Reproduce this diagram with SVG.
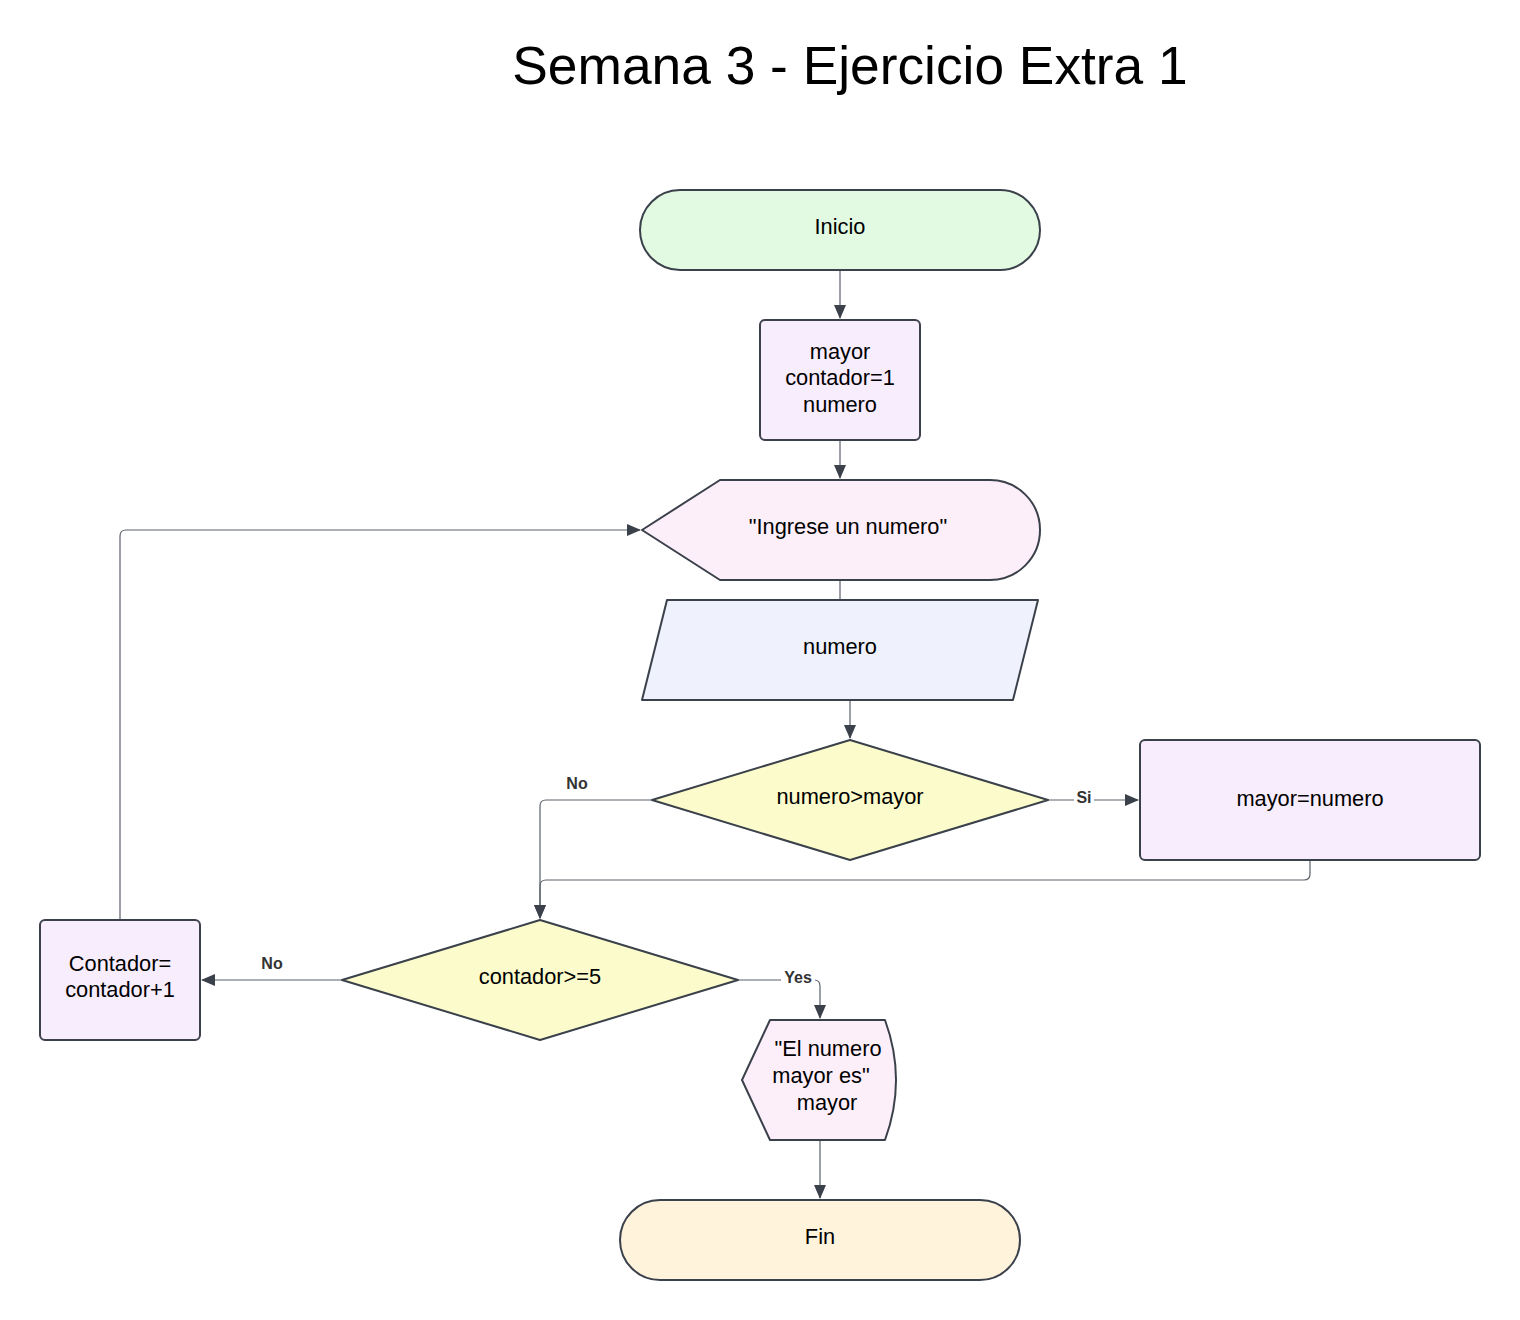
<svg xmlns="http://www.w3.org/2000/svg" width="1520" height="1320" viewBox="0 0 1520 1320">
<style>
.n{stroke:#3a414a;stroke-width:2;stroke-linejoin:round}
.t{font-family:"Liberation Sans",Arial,sans-serif;font-size:21.8px;fill:#000;text-anchor:middle}
.l{font-family:"Liberation Sans",Arial,sans-serif;font-size:16px;font-weight:bold;fill:#333;text-anchor:middle}
.c{fill:none;stroke:#5a616b;stroke-width:1.2}
</style>
<defs>
<marker id="a" viewBox="0 0 14 12" refX="13" refY="6" markerWidth="14" markerHeight="12" markerUnits="userSpaceOnUse" orient="auto">
<path d="M0,0 L14,6 L0,12 Z" fill="#3a414a"/>
</marker>
</defs>
<rect width="1520" height="1320" fill="#fff"/>
<text x="850" y="84" font-family="Liberation Sans,Arial,sans-serif" font-size="53.3" text-anchor="middle" fill="#000">Semana 3 - Ejercicio Extra 1</text>
<g id="connectors">
<path class="c" d="M840,270 V318" marker-end="url(#a)"/>
<path class="c" d="M840,440 V478" marker-end="url(#a)"/>
<path class="c" d="M840,580 V600"/>
<path class="c" d="M850,700 V738" marker-end="url(#a)"/>
<path class="c" d="M1048,800 H1138" marker-end="url(#a)"/>
<path class="c" d="M652,800 H546 Q540,800 540,806 V918" marker-end="url(#a)"/>
<path class="c" d="M1310,860 V874 Q1310,880 1304,880 H546 Q540,880 540,886 V918" marker-end="url(#a)"/>
<path class="c" d="M342,980 H202" marker-end="url(#a)"/>
<path class="c" d="M120,920 V536 Q120,530 126,530 H640" marker-end="url(#a)"/>
<path class="c" d="M738,980 H814 Q820,980 820,986 V1018" marker-end="url(#a)"/>
<path class="c" d="M820,1140 V1198" marker-end="url(#a)"/>
<rect x="1074" y="790" width="20" height="17" fill="#fff"/>
<text class="l" x="1084" y="803">Si</text>
<text class="l" x="577" y="789">No</text>
<text class="l" x="272" y="969">No</text>
<rect x="781" y="970" width="34" height="17" fill="#fff"/>
<text class="l" x="798" y="983">Yes</text>
</g>
<g id="inicio">
<rect class="n" x="640" y="190" width="400" height="80" rx="40" fill="#e2fae2"/>
<text class="t" x="840" y="234">Inicio</text>
</g>
<g id="init">
<rect class="n" x="760" y="320" width="160" height="120" rx="5" fill="#f8edfd"/>
<text class="t" x="840" y="359">mayor</text>
<text class="t" x="840" y="385">contador=1</text>
<text class="t" x="840" y="412">numero</text>
</g>
<g id="prompt">
<path class="n" d="M642,530 L720,480 H990 A50,50 0 0 1 990,580 H720 Z" fill="#fdeffa"/>
<text class="t" x="848" y="534">"Ingrese un numero"</text>
</g>
<g id="input">
<path class="n" d="M667,600 H1038 L1013,700 H642 Z" fill="#eff1fd"/>
<text class="t" x="840" y="654">numero</text>
</g>
<g id="cond1">
<path class="n" d="M652,800 L850,740 L1048,800 L850,860 Z" fill="#fbfbcb"/>
<text class="t" x="850" y="804">numero&gt;mayor</text>
</g>
<g id="assign">
<rect class="n" x="1140" y="740" width="340" height="120" rx="5" fill="#f8edfd"/>
<text class="t" x="1310" y="806">mayor=numero</text>
</g>
<g id="cond2">
<path class="n" d="M342,980 L540,920 L738,980 L540,1040 Z" fill="#fbfbcb"/>
<text class="t" x="540" y="984">contador&gt;=5</text>
</g>
<g id="incr">
<rect class="n" x="40" y="920" width="160" height="120" rx="5" fill="#f8edfd"/>
<text class="t" x="120" y="971">Contador=</text>
<text class="t" x="120" y="997">contador+1</text>
</g>
<g id="output">
<path class="n" d="M742,1080 L770,1020 H885 Q907,1080 885,1140 H770 Z" fill="#fdeffa"/>
<text class="t" x="828" y="1056">"El numero</text>
<text class="t" x="821" y="1083">mayor es"</text>
<text class="t" x="827" y="1110">mayor</text>
</g>
<g id="fin">
<rect class="n" x="620" y="1200" width="400" height="80" rx="40" fill="#fff3dc"/>
<text class="t" x="820" y="1244">Fin</text>
</g>
</svg>
